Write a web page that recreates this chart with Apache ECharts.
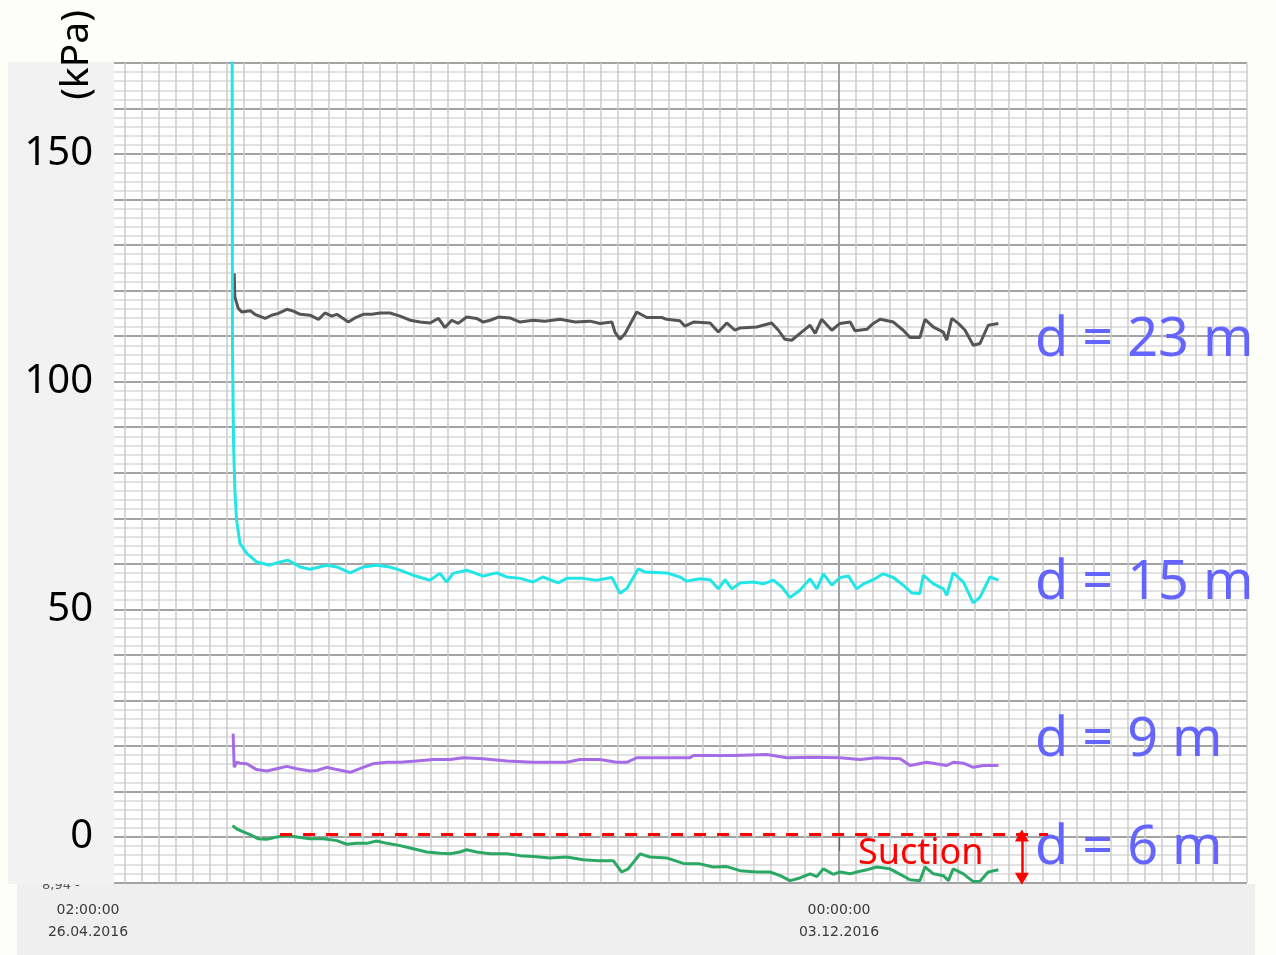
<!DOCTYPE html>
<html>
<head>
<meta charset="utf-8">
<script src="https://cdn.jsdelivr.net/npm/echarts@6/dist/echarts.min.js"></script>
<style>
  html, body { margin: 0; padding: 0; background: #fdfdfa; }
  #chart { width: 1276px; height: 955px; }
</style>
</head>
<body>
<div id="chart"></div>
<script>
// Pore pressure readings, x = days since the first logged sample (26.04.2016 02:00)
const startTime = Date.UTC(2016, 3, 26, 2, 0, 0);
const DAY = 86400000;

// dates printed under the time axis
const axisDates = ['2016-04-26T02:00:00Z', '2016-12-03T00:00:00Z'];
const axisDays = axisDates.map(s => (Date.parse(s) - startTime) / DAY);

// pressure tick labels (kPa)
const pressureTicks = [0, 50, 100, 150];

// depth labels shown at the right
const depthNames = ['d = 23 m', 'd = 15 m', 'd = 9 m', 'd = 6 m'];

// sensor at 23 m depth: [day, kPa]
const d23 = [[43.0,123.8],[43.2,118.6],[44.2,116.1],[45.2,115.3],[47.7,115.6],[49.1,114.8],[52.1,113.9],[54.0,114.6],[56.0,115.0],[58.5,115.9],[60.4,115.5],[62.4,114.8],[65.3,114.6],[67.8,113.7],[69.7,115.1],[71.7,114.4],[73.2,114.8],[76.6,113.1],[79.0,114.2],[81.0,114.8],[83.5,114.8],[85.9,115.1],[88.8,115.1],[91.8,114.4],[94.7,113.5],[97.7,113.1],[100.6,112.9],[103.1,113.9],[105.0,111.9],[107.0,113.5],[108.9,112.8],[111.4,114.2],[114.3,113.9],[116.3,113.1],[118.3,113.5],[120.7,114.2],[124.1,114.0],[127.1,113.1],[130.9,113.5],[134.4,113.3],[138.8,113.7],[143.3,113.1],[147.7,113.3],[150.6,112.8],[154.1,113.1],[155.0,110.9],[156.5,109.3],[158.0,110.6],[161.4,115.3],[164.4,114.1],[168.8,114.1],[170.2,113.7],[174.1,113.4],[175.6,112.2],[178.1,113.1],[183.0,112.9],[185.4,110.9],[187.9,112.9],[190.3,111.3],[191.8,111.8],[196.7,112.0],[201.1,112.9],[203.1,111.3],[205.0,109.3],[207.0,109.1],[209.9,110.9],[212.4,112.4],[213.9,110.6],[215.8,113.7],[218.8,111.3],[221.2,112.8],[224.2,113.1],[225.6,111.2],[229.1,111.5],[231.0,112.8],[233.0,113.7],[236.9,113.1],[239.8,111.3],[241.8,109.7],[244.7,109.7],[246.2,113.7],[248.7,112.0],[251.6,110.9],[252.6,109.1],[254.1,113.9],[256.0,112.8],[258.0,111.3],[260.4,108.0],[262.4,108.4],[264.8,112.4],[267.8,112.8]];

// sensor at 15 m depth
const d15 = [[42.4,180],[42.5,106.9],[42.8,87.1],[43.2,76.2],[43.7,69.6],[44.7,64.5],[46.7,62.3],[49.6,60.4],[53.5,59.7],[55.9,60.3],[58.8,60.8],[62.4,59.3],[65.3,58.8],[70.2,59.7],[73.2,59.3],[77.1,58.0],[80.9,59.3],[84.9,59.7],[88.8,59.3],[91.8,58.6],[95.6,57.5],[100.6,56.4],[103.5,57.9],[105.5,56.0],[107.4,57.9],[111.4,58.6],[116.2,57.3],[120.2,58.0],[123.2,57.1],[127.1,56.8],[130.9,56.0],[133.8,57.1],[138.3,55.8],[140.8,56.8],[145.6,56.8],[149.6,56.4],[154.1,57.0],[156.5,53.5],[158.5,54.6],[161.9,58.9],[163.9,58.2],[170.2,58.0],[174.1,57.1],[176.1,56.2],[180.0,56.7],[183.0,56.5],[185.4,54.5],[187.4,56.5],[189.4,54.5],[191.8,55.8],[195.7,56.0],[198.7,55.6],[201.6,56.4],[204.1,54.9],[206.5,52.6],[209.4,54.2],[212.4,56.7],[214.4,54.5],[216.3,57.8],[218.8,55.3],[221.2,57.0],[223.7,57.3],[226.1,54.5],[228.1,55.6],[231.0,56.5],[233.9,57.8],[236.9,57.0],[239.8,55.3],[242.3,53.6],[244.7,53.5],[245.7,57.5],[248.7,55.6],[251.6,54.5],[252.6,53.1],[254.5,58.0],[257.5,56.0],[260.4,51.4],[262.4,52.7],[265.3,57.1],[267.8,56.4]];

// sensor at 9 m depth
const d9 = [[42.7,22.7],[43.0,15.3],[43.7,16.4],[44.7,16.2],[46.7,16.1],[49.6,14.8],[52.6,14.5],[55.5,15.0],[58.5,15.5],[61.4,15.0],[65.3,14.5],[67.3,14.6],[70.2,15.3],[73.2,14.8],[77.1,14.2],[80.0,15.0],[83.9,16.1],[87.9,16.4],[91.8,16.4],[96.7,16.7],[101.6,17.0],[106.5,17.0],[110.4,17.4],[116.3,17.2],[123.2,16.7],[131.0,16.4],[140.8,16.4],[144.7,17.0],[150.6,17.0],[155.5,16.4],[158.5,16.4],[161.4,17.4],[170.2,17.4],[177.1,17.4],[178.1,17.9],[189.8,17.9],[199.7,18.1],[205.5,17.4],[213.4,17.5],[221.2,17.4],[227.1,17.0],[232.0,17.4],[238.9,17.2],[241.8,15.7],[246.7,16.4],[252.6,15.7],[254.5,16.4],[257.5,16.2],[260.4,15.3],[263.4,15.7],[267.8,15.7]];

// sensor at 6 m depth
const d6 = [[42.5,2.5],[43.7,1.8],[45.7,1.1],[47.7,0.5],[50.1,-0.4],[52.6,-0.5],[55.5,0.0],[58.5,0.3],[61.4,0.0],[65.3,-0.4],[69.2,-0.4],[73.2,-0.8],[76.1,-1.6],[79.0,-1.4],[82.0,-1.4],[84.9,-0.9],[87.9,-1.4],[91.8,-1.9],[95.7,-2.6],[99.6,-3.3],[103.5,-3.6],[106.5,-3.7],[109.4,-3.3],[111.4,-2.8],[114.3,-3.3],[118.3,-3.7],[123.2,-3.7],[127.1,-4.1],[131.0,-4.3],[135.9,-4.6],[140.8,-4.4],[145.7,-5.0],[150.1,-5.2],[154.5,-5.2],[157.0,-7.7],[158.9,-7.0],[162.4,-3.7],[165.3,-4.4],[170.2,-4.6],[175.1,-5.8],[180.0,-5.9],[183.9,-6.6],[187.9,-6.5],[191.8,-7.4],[196.7,-7.7],[200.6,-7.7],[203.6,-8.5],[206.5,-9.6],[209.4,-9.0],[212.4,-8.1],[214.4,-8.7],[216.3,-7.0],[219.2,-8.2],[221.2,-7.7],[224.2,-8.1],[226.1,-7.7],[229.1,-7.2],[232.0,-6.6],[235.9,-7.0],[238.9,-8.2],[241.8,-9.4],[244.7,-9.6],[246.2,-6.6],[248.7,-8.1],[251.6,-8.5],[253.1,-9.6],[254.5,-7.0],[257.5,-8.1],[260.4,-9.8],[262.4,-9.7],[264.8,-7.7],[267.8,-7.2]];

// zero-pressure reference and suction span (days / kPa)
const suctionLine = [56.5, 282.4, 0.5];
const suctionSpan = [274.7, 0.3, -9.2];

// time grid every 5 days, anchored on the 03.12.2016 line
const gridStep = 5;
const xMin = axisDays[1] - 45 * gridStep;
const xMax = xMin + 69 * gridStep;

function pad(n) { return String(n).padStart(2, '0'); }
function fmtTime(v) {
  const t = new Date(startTime + Math.round(v * DAY / 1000) * 1000);
  return pad(t.getUTCHours()) + ':' + pad(t.getUTCMinutes()) + ':' + pad(t.getUTCSeconds()) +
    '\n' + pad(t.getUTCDate()) + '.' + pad(t.getUTCMonth() + 1) + '.' + t.getUTCFullYear();
}

const chart = echarts.init(document.getElementById('chart'), null, { renderer: 'canvas' });

const lineSeries = (name, data, color, extra) => Object.assign({
  name, type: 'line', data, showSymbol: false, symbol: 'none', clip: true,
  lineStyle: { color, width: 3 }, itemStyle: { color }, z: 2
}, extra || {});

const option = {
  animation: false,
  backgroundColor: '#fdfdfa',
  grid: { left: 74.12, right: 29.03, top: 63, bottom: 72.5, backgroundColor: '#ffffff', show: true, borderWidth: 0 },
  xAxis: [
    {
      type: 'value', min: xMin, max: xMax, interval: gridStep,
      axisLine: { show: false }, axisTick: { show: false }, axisLabel: { show: false },
      splitLine: { show: true, lineStyle: { color: '#cbcbcb', width: 1.5 } }
    },
    {
      type: 'value', min: xMin, max: xMax, interval: gridStep, position: 'bottom',
      axisLine: { show: false },
      splitLine: { show: false },
      axisTick: { show: true, customValues: axisDays, length: 14, lineStyle: { color: '#666', width: 1.2 } },
      axisLabel: {
        show: true, customValues: axisDays, formatter: fmtTime, margin: 17,
        lineHeight: 22, fontSize: 14, fontFamily: 'DejaVu Sans', color: '#3a3a3a'
      },
      z: 3
    }
  ],
  yAxis: [
    {
      type: 'value', min: -10, max: 170, interval: 10,
      axisLine: { show: false }, axisTick: { show: false }, axisLabel: { show: false },
      splitLine: { show: true, lineStyle: { color: '#a3a3a3', width: 1.8 } },
      minorTick: { show: false, splitNumber: 5 },
      minorSplitLine: { show: true, lineStyle: { color: '#d9d9d9', width: 1.5 } }
    },
    {
      type: 'value', min: -10, max: 170, interval: 10, position: 'left',
      axisLine: { show: false }, axisTick: { show: false }, splitLine: { show: false },
      axisLabel: {
        show: true, interval: 0, margin: -19,
        formatter: v => (pressureTicks.indexOf(v) >= 0 ? String(v) : ''),
        fontSize: 40, fontFamily: 'Noto Sans', color: '#000'
      },
      z: 10
    }
  ],
  series: [
    lineSeries(depthNames[0], d23, '#555555'),
    lineSeries(depthNames[1], d15, '#22e6e6', {
      markLine: {
        silent: true, symbol: 'none', z: 1, label: { show: false },
        lineStyle: { color: '#9c9c9c', width: 1.8, type: 'solid' },
        data: [{ xAxis: axisDays[1] }]
      }
    }),
    lineSeries(depthNames[2], d9, '#a56ce6', {
      markLine: {
        silent: true, symbol: ['triangle', 'triangle'], symbolSize: [14, 12], z: 6,
        label: { show: false },
        lineStyle: { color: '#ff0000', width: 2.5, type: 'solid' },
        data: [[
          { coord: [suctionSpan[0], suctionSpan[1]] },
          { coord: [suctionSpan[0], suctionSpan[2]] }
        ]]
      }
    }),
    lineSeries(depthNames[3], d6, '#2aa864', {
      markLine: {
        silent: true, symbol: 'none', z: 6, label: { show: false },
        lineStyle: { color: '#ff0000', width: 3, type: [12, 11] },
        data: [[
          { coord: [suctionLine[0], suctionLine[2]] },
          { coord: [suctionLine[1], suctionLine[2]] }
        ]]
      }
    })
  ],
  graphic: [
    { type: 'rect', silent: true, z: -10, shape: { x: 17, y: 884, width: 1238, height: 71 }, style: { fill: '#efefef' } },
    { type: 'text', silent: true, z: 4, x: 42, y: 886,
      style: { text: '8,94 -', font: '13px "DejaVu Sans"', fill: '#555', textVerticalAlign: 'middle', verticalAlign: 'middle' } },
    { type: 'rect', silent: true, z: 5, shape: { x: 8, y: 62, width: 106, height: 822 }, style: { fill: '#f2f2f2' } },
    { type: 'text', silent: true, z: 6, x: 77, y: 55, rotation: Math.PI / 2,
      style: { text: '(kPa)', font: '39px "Noto Sans"', fill: '#000', textAlign: 'center', align: 'center', textVerticalAlign: 'middle', verticalAlign: 'middle' } },
    { type: 'text', silent: true, z: 6, x: 1035, y: 341,
      style: { text: depthNames[0], font: '54px "Noto Sans"', fill: '#6464ff', textVerticalAlign: 'middle', verticalAlign: 'middle' } },
    { type: 'text', silent: true, z: 6, x: 1035, y: 584,
      style: { text: depthNames[1], font: '54px "Noto Sans"', fill: '#6464ff', textVerticalAlign: 'middle', verticalAlign: 'middle' } },
    { type: 'text', silent: true, z: 6, x: 1035, y: 741,
      style: { text: depthNames[2], font: '54px "Noto Sans"', fill: '#6464ff', textVerticalAlign: 'middle', verticalAlign: 'middle' } },
    { type: 'text', silent: true, z: 6, x: 1035, y: 849,
      style: { text: depthNames[3], font: '54px "Noto Sans"', fill: '#6464ff', textVerticalAlign: 'middle', verticalAlign: 'middle' } },
    { type: 'text', silent: true, z: 6, x: 858, y: 854,
      style: { text: 'Suction', font: '36px "Noto Sans"', fill: '#ff0000', textVerticalAlign: 'middle', verticalAlign: 'middle' } }
  ]
};

chart.setOption(option);
</script>
</body>
</html>
